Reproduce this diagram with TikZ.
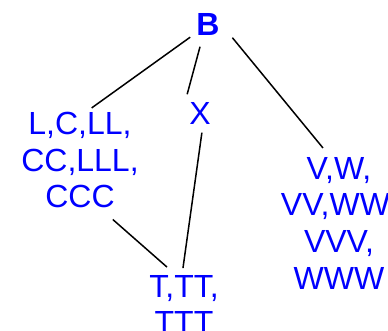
\documentclass[tikz,border=0pt]{standalone}
\usepackage{fontspec}
\setmainfont{Liberation Sans}
\usetikzlibrary{positioning}

\begin{document}
\begin{tikzpicture}
	[x=1pt, y=-1pt, inner sep=0pt,
	term/.style	= {text=blue, font=\fontsize{32}{36.6}\selectfont, align=center},
	root/.style	= {term, font=\fontsize{32}{36.6}\selectfont\bfseries},
	link/.style	= {draw=black, line width=1.5pt}]
	
	\useasboundingbox (0,0) rectangle (388,331);
	
	\node at (208,24.5)	[root]				(b)		{B};
	\node at (200,113.5)	[term]				(x)		{X};
	\node at (80,112)		[term, anchor=north]	(ln)	{L,C,LL,\\CC,LLL,\\CCC};
	\node at (339,157)		[term, anchor=north]	(vw)	{V,W,\\VV,WW,\\VVV,\\WWW};
	\node at (184,275)		[term, anchor=north]	(t)		{T,TT,\\TTT};
	
	\draw [link, shorten <=2.5pt, shorten >=7pt]	([xshift=-4pt]b.south west) -- ([xshift=6pt]ln.north);
	\draw [link, shorten <=11.4pt, shorten >=8.3pt]	([xshift=-5pt]b.south) -- ([xshift=-15pt]x.north);
	\draw [link, shorten <=2.6pt, shorten >=11.7pt]	([xshift=11pt]b.south east) -- ([xshift=-8.6pt]vw.north);
	\draw [link, shorten <=8pt, shorten >=7pt]		([xshift=3pt]x.south) -- ([xshift=-2pt]t.north);
	\draw [link, shorten <=17pt, shorten >=12pt]	([xshift=20pt]ln.south) -- ([xshift=-8pt]t.north);
	
\end{tikzpicture}
\end{document}
